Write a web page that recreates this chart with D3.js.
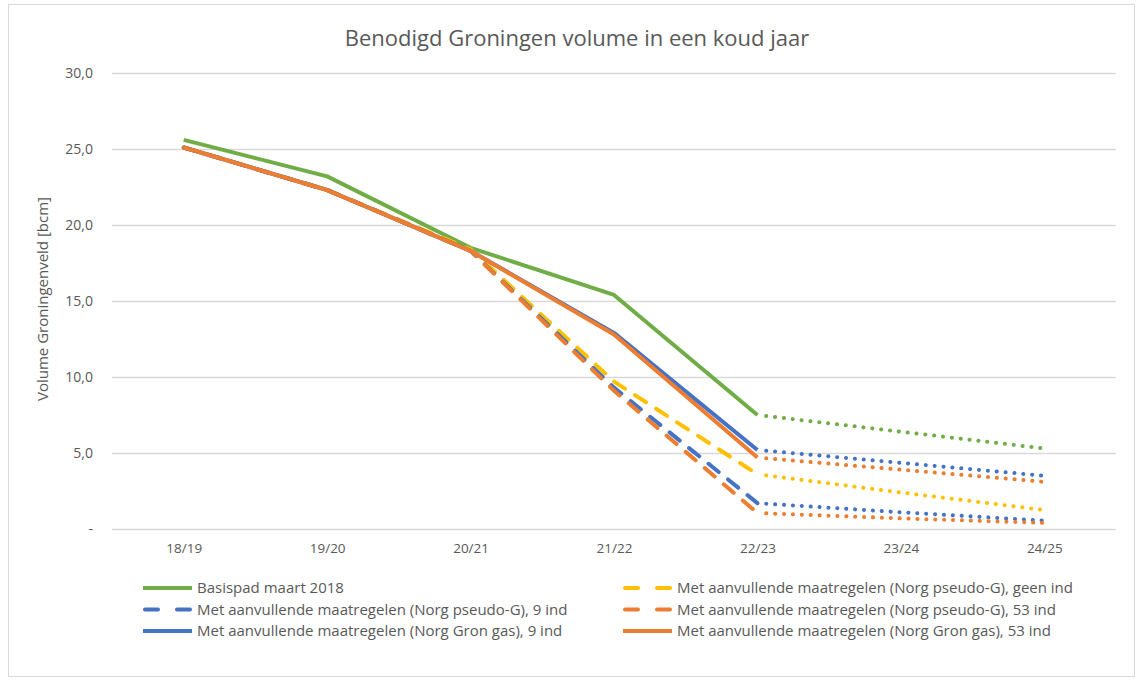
<!DOCTYPE html>
<html>
<head>
<meta charset="utf-8">
<script src="https://cdn.jsdelivr.net/npm/d3@7"></script>
<style>
  body { margin: 0; background: #fff; }
  text { font-family: "Open Sans", sans-serif; fill: #595959; }
</style>
</head>
<body>
<script>
'use strict';

// categories (gas years)
const years = ["18/19", "19/20", "20/21", "21/22", "22/23", "23/24", "24/25"];

// series values in bcm
const basispad   = [25.6, 23.2, 18.5, 15.4, 7.5, 6.4, 5.3];
const geenInd    = [25.1, 22.3, 18.4, 9.7, 3.6, 2.4, 1.25];
const pseudo9    = [25.1, 22.3, 18.3, 9.3, 1.7, 1.1, 0.55];
const pseudo53   = [25.1, 22.3, 18.3, 9.1, 1.05, 0.7, 0.4];
const gron9      = [25.1, 22.3, 18.3, 12.9, 5.2, 4.35, 3.5];
const gron53     = [25.1, 22.3, 18.3, 12.8, 4.7, 3.9, 3.1];

const yTicks = [0, 5, 10, 15, 20, 25, 30];

const seriesNames = [
  "Basispad maart 2018",
  "Met aanvullende maatregelen (Norg pseudo-G), geen ind",
  "Met aanvullende maatregelen (Norg pseudo-G), 9 ind",
  "Met aanvullende maatregelen (Norg pseudo-G), 53 ind",
  "Met aanvullende maatregelen (Norg Gron gas), 9 ind",
  "Met aanvullende maatregelen (Norg Gron gas), 53 ind"
];

const series = [
  { name: seriesNames[0], values: basispad, color: "#70AD47", dash: null },
  { name: seriesNames[1], values: geenInd,  color: "#FFC000", dash: "13,12" },
  { name: seriesNames[2], values: pseudo9,  color: "#4472C4", dash: "13,12" },
  { name: seriesNames[3], values: pseudo53, color: "#ED7D31", dash: "13,12" },
  { name: seriesNames[4], values: gron9,    color: "#4472C4", dash: null },
  { name: seriesNames[5], values: gron53,   color: "#ED7D31", dash: null }
];

const svg = d3.select("body").append("svg")
  .attr("width", 1138)
  .attr("height", 681);

// chart border
svg.append("rect")
  .attr("x", 8.5).attr("y", 4.5)
  .attr("width", 1126).attr("height", 672)
  .attr("fill", "#fff")
  .attr("stroke", "#d9d9d9");

// scales
const x = d3.scalePoint().domain(years).range([112, 1116]).padding(0.5);
const y = d3.scaleLinear().domain([0, 30]).range([529, 73]);

// gridlines + y labels
const yAxis = d3.axisLeft(y)
  .tickValues(yTicks)
  .tickSize(-(1116 - 112))
  .tickPadding(19)
  .tickFormat(d => d === 0 ? "-" : d3.format(".1f")(d).replace(".", ","));

const gy = svg.append("g").attr("transform", "translate(112,0)").call(yAxis);
gy.select(".domain").remove();
gy.selectAll(".tick line").attr("stroke", "#d9d9d9").attr("stroke-width", 1.3);
gy.selectAll(".tick text")
  .style("font-size", "14px")
  .style("font-family", "'Open Sans', sans-serif")
  .attr("fill", "#595959");

// x labels
const xAxis = d3.axisBottom(x).tickSize(0).tickPadding(14);
const gx = svg.append("g").attr("transform", "translate(0,529)").call(xAxis);
gx.select(".domain").remove();
gx.selectAll(".tick text")
  .style("font-size", "13.5px")
  .style("font-family", "'Open Sans', sans-serif")
  .attr("fill", "#595959");

// lines: measured part (solid/dashed) until 22/23, forecast dotted after
const line = d3.line()
  .x(d => x(d.year))
  .y(d => y(d.value));

series.forEach(s => {
  const pts = s.values.map((v, i) => ({ year: years[i], value: v }));
  svg.append("path")
    .datum(pts.slice(0, 5))
    .attr("d", line)
    .attr("fill", "none")
    .attr("stroke", s.color)
    .attr("stroke-width", 4)
    .attr("stroke-linecap", s.dash ? "round" : "butt")
    .attr("stroke-linejoin", "round")
    .attr("stroke-dasharray", s.dash);

  svg.append("path")
    .datum(pts.slice(4))
    .attr("d", line)
    .attr("fill", "none")
    .attr("stroke", s.color)
    .attr("stroke-width", 4)
    .attr("stroke-linecap", "round")
    .attr("stroke-dasharray", "0.1,8.8")
    .attr("stroke-dashoffset", -8.8);
});

// title
svg.append("text")
  .attr("x", 577)
  .attr("y", 46)
  .attr("text-anchor", "middle")
  .style("font-size", "22px")
  .text("Benodigd Groningen volume in een koud jaar");

// y axis title
svg.append("text")
  .attr("transform", "translate(48,299)rotate(-90)")
  .attr("text-anchor", "middle")
  .style("font-size", "15px")
  .text("Volume Groningenveld [bcm]");

// legend, two columns, filled row by row
const legend = svg.append("g");
const legendItems = legend.selectAll("g")
  .data(series)
  .enter()
  .append("g")
  .attr("transform", (d, i) => "translate(" + (i % 2 === 0 ? 143 : 623) + "," + (588 + Math.floor(i / 2) * 21.5) + ")");

legendItems.append("line")
  .attr("x1", d => d.dash ? 2 : 0)
  .attr("x2", d => d.dash ? 47 : 49)
  .attr("stroke", d => d.color)
  .attr("stroke-width", 4)
  .attr("stroke-linecap", d => d.dash ? "round" : "butt")
  .attr("stroke-dasharray", d => d.dash ? "13,19" : null);

legendItems.append("text")
  .attr("x", 54)
  .attr("dy", "0.35em")
  .style("font-size", "15px")
  .text(d => d.name);
</script>
</body>
</html>
